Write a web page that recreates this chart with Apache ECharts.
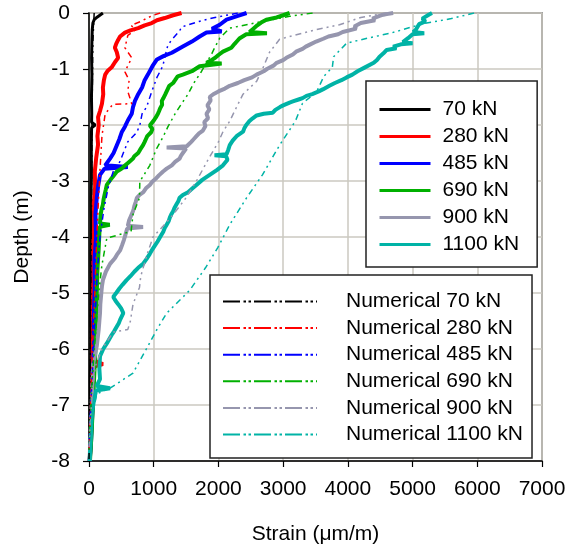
<!DOCTYPE html>
<html>
<head>
<meta charset="utf-8">
<script src="https://cdn.jsdelivr.net/npm/echarts@6/dist/echarts.min.js"></script>
<style>
html,body{margin:0;padding:0;background:#fff;}
#chart{width:578px;height:550px;}
</style>
</head>
<body>
<div id="chart"></div>
<script>
// ---- Data: [strain (µm/m), depth (m)] ----
var seriesNames = ['70 kN','280 kN','485 kN','690 kN','900 kN','1100 kN'];
var numNames = ['Numerical 70 kN','Numerical 280 kN','Numerical 485 kN','Numerical 690 kN','Numerical 900 kN','Numerical 1100 kN'];
var colors = ['#000000','#ff0000','#0000ff','#00b000','#9696ae','#00b3a6'];
var xTicks = [0,1000,2000,3000,4000,5000,6000,7000];
var yTicks = [-8,-7,-6,-5,-4,-3,-2,-1,0];

var meas70 = [[215,0],[190,-0.03],[130,-0.07],[80,-0.12],[60,-0.18],[50,-0.3],[45,-0.5],[40,-0.8],[45,-1.1],[38,-1.5],[42,-1.8],[40,-1.95],[95,-2.0],[40,-2.05],[35,-2.4],[38,-2.9],[30,-3.3],[35,-3.8],[28,-4.3],[32,-4.9],[25,-5.4],[30,-6.0],[20,-6.5],[22,-7.0],[15,-7.4],[10,-7.8],[5,-8]];
var meas280 = [[1430,0],[1300,-0.04],[1170,-0.09],[1050,-0.13],[970,-0.18],[860,-0.22],[760,-0.27],[640,-0.31],[555,-0.35],[480,-0.42],[450,-0.48],[420,-0.55],[400,-0.62],[430,-0.7],[450,-0.8],[400,-0.88],[350,-0.97],[290,-1.03],[250,-1.1],[230,-1.2],[215,-1.33],[220,-1.45],[200,-1.62],[170,-1.75],[140,-1.86],[150,-2.0],[130,-2.2],[140,-2.35],[110,-2.6],[90,-2.83],[95,-3.1],[75,-3.4],[80,-3.8],[65,-4.2],[70,-4.7],[60,-5.2],[65,-5.7],[55,-6.2],[215,-6.27],[60,-6.32],[50,-6.8],[40,-7.2],[30,-7.6],[10,-8]];
var meas485 = [[2435,0],[2300,-0.05],[2125,-0.12],[2020,-0.21],[1900,-0.28],[2050,-0.33],[1815,-0.35],[1710,-0.42],[1590,-0.51],[1450,-0.6],[1280,-0.71],[1150,-0.77],[1050,-0.83],[980,-0.95],[910,-1.1],[860,-1.2],[820,-1.33],[760,-1.45],[710,-1.57],[680,-1.68],[660,-1.8],[600,-1.92],[555,-2.03],[505,-2.13],[470,-2.25],[430,-2.36],[380,-2.5],[325,-2.6],[250,-2.72],[600,-2.75],[240,-2.78],[170,-2.89],[140,-3.1],[120,-3.3],[100,-3.6],[110,-4.0],[85,-4.4],[90,-4.9],[75,-5.4],[80,-5.9],[60,-6.4],[65,-6.9],[45,-7.3],[30,-7.7],[10,-8]];
var meas690 = [[3100,0],[3000,-0.04],[2900,-0.08],[2740,-0.12],[2660,-0.17],[2600,-0.22],[2540,-0.28],[2480,-0.34],[2750,-0.36],[2430,-0.38],[2330,-0.45],[2290,-0.5],[2250,-0.55],[2200,-0.62],[2070,-0.69],[2000,-0.75],[1950,-0.8],[1880,-0.85],[1815,-0.89],[2050,-0.9],[1710,-0.95],[1590,-1.04],[1450,-1.1],[1370,-1.13],[1330,-1.2],[1300,-1.25],[1240,-1.3],[1220,-1.33],[1200,-1.4],[1180,-1.45],[1150,-1.52],[1125,-1.57],[1130,-1.64],[1100,-1.7],[1080,-1.76],[1065,-1.8],[1030,-1.87],[1000,-1.92],[940,-2.01],[980,-2.07],[960,-2.13],[900,-2.2],[880,-2.25],[860,-2.3],[835,-2.36],[790,-2.44],[760,-2.5],[700,-2.56],[680,-2.6],[620,-2.66],[560,-2.72],[500,-2.78],[430,-2.83],[350,-2.95],[275,-3.07],[260,-3.15],[240,-3.25],[225,-3.33],[215,-3.42],[195,-3.5],[180,-3.6],[170,-3.76],[320,-3.78],[165,-3.82],[150,-4.2],[130,-4.6],[120,-5.0],[110,-5.5],[100,-6.0],[80,-6.5],[60,-7.0],[40,-7.5],[15,-8]];
var meas900 = [[4700,0],[4600,-0.02],[4550,-0.03],[4490,-0.05],[4380,-0.1],[4420,-0.13],[4200,-0.18],[4100,-0.24],[4130,-0.28],[3920,-0.34],[3850,-0.38],[3700,-0.42],[3620,-0.46],[3640,-0.48],[3510,-0.51],[3420,-0.56],[3350,-0.6],[3300,-0.64],[3200,-0.69],[3150,-0.74],[3050,-0.8],[3000,-0.84],[2900,-0.89],[2850,-0.94],[2750,-1.0],[2700,-1.04],[2590,-1.1],[2520,-1.15],[2400,-1.2],[2300,-1.25],[2175,-1.3],[2100,-1.35],[2000,-1.4],[1920,-1.45],[1865,-1.5],[1880,-1.56],[1830,-1.65],[1860,-1.72],[1815,-1.8],[1840,-1.88],[1780,-1.95],[1800,-2.02],[1760,-2.1],[1700,-2.15],[1660,-2.2],[1620,-2.25],[1580,-2.3],[1510,-2.38],[1200,-2.4],[1500,-2.42],[1450,-2.5],[1420,-2.55],[1400,-2.6],[1330,-2.66],[1280,-2.72],[1200,-2.78],[1145,-2.83],[1080,-2.9],[1040,-2.95],[980,-3.01],[940,-3.07],[880,-3.13],[840,-3.2],[780,-3.25],[740,-3.3],[720,-3.38],[700,-3.45],[690,-3.5],[680,-3.54],[650,-3.62],[620,-3.7],[600,-3.8],[835,-3.82],[590,-3.85],[580,-3.89],[560,-3.97],[540,-4.05],[510,-4.15],[480,-4.24],[430,-4.32],[400,-4.38],[325,-4.48],[260,-4.62],[215,-4.77],[200,-4.88],[190,-5.0],[175,-5.2],[170,-5.36],[160,-5.5],[150,-5.65],[135,-5.8],[120,-5.95],[65,-6.25],[50,-6.7],[35,-7.2],[20,-7.6],[10,-8]];
var meas1100 = [[5300,0],[5250,-0.03],[5150,-0.1],[5200,-0.15],[5100,-0.2],[5050,-0.3],[5010,-0.34],[5180,-0.36],[5000,-0.38],[4930,-0.45],[4850,-0.52],[5000,-0.54],[4820,-0.56],[4700,-0.6],[4750,-0.63],[4600,-0.66],[4550,-0.72],[4490,-0.78],[4450,-0.84],[4400,-0.89],[4250,-0.98],[4150,-1.04],[4070,-1.1],[3980,-1.15],[3900,-1.2],[3800,-1.25],[3715,-1.3],[3620,-1.36],[3550,-1.4],[3450,-1.45],[3360,-1.48],[3300,-1.52],[3250,-1.54],[3150,-1.58],[3100,-1.6],[3000,-1.65],[2950,-1.68],[2880,-1.73],[2840,-1.78],[2700,-1.8],[2590,-1.83],[2530,-1.88],[2480,-1.93],[2430,-2.0],[2400,-2.06],[2380,-2.12],[2330,-2.16],[2280,-2.2],[2220,-2.28],[2175,-2.36],[2150,-2.45],[2125,-2.52],[1940,-2.54],[2120,-2.56],[2140,-2.62],[2070,-2.72],[1980,-2.8],[1865,-2.89],[1750,-2.98],[1660,-3.07],[1600,-3.13],[1530,-3.2],[1450,-3.25],[1400,-3.3],[1380,-3.36],[1350,-3.42],[1320,-3.48],[1300,-3.54],[1270,-3.6],[1250,-3.65],[1230,-3.72],[1200,-3.78],[1170,-3.84],[1150,-3.9],[1120,-3.96],[1095,-4.01],[1060,-4.08],[1020,-4.15],[980,-4.22],[940,-4.3],[890,-4.39],[835,-4.48],[760,-4.55],[700,-4.62],[640,-4.7],[580,-4.77],[520,-4.85],[470,-4.92],[420,-5.0],[375,-5.07],[410,-5.14],[450,-5.2],[500,-5.28],[530,-5.36],[480,-5.48],[460,-5.54],[430,-5.6],[390,-5.68],[350,-5.75],[310,-5.83],[275,-5.9],[220,-6.0],[170,-6.13],[160,-6.35],[170,-6.54],[120,-6.66],[325,-6.7],[110,-6.74],[80,-6.9],[45,-7.13],[30,-7.5],[10,-8]];

var num70 = [[80,0],[60,-0.5],[50,-1.5],[40,-3.0],[30,-4.5],[20,-6.0],[10,-7.0],[0,-8]];
var num280 = [[1100,0],[970,-0.05],[800,-0.15],[650,-0.22],[720,-0.3],[600,-0.4],[555,-0.62],[660,-0.8],[555,-1.05],[620,-1.2],[600,-1.4],[660,-1.62],[370,-1.63],[250,-1.8],[200,-2.2],[170,-2.8],[140,-3.5],[110,-4.3],[90,-5.0],[60,-5.8],[40,-6.5],[20,-7.2],[0,-7.8]];
var num485 = [[2300,0],[1910,-0.09],[1700,-0.15],[1430,-0.25],[1400,-0.32],[1300,-0.45],[1220,-0.57],[1180,-0.75],[1140,-0.95],[1050,-1.15],[970,-1.4],[890,-1.68],[820,-1.8],[790,-1.98],[740,-2.13],[600,-2.3],[530,-2.5],[480,-2.65],[375,-2.83],[300,-3.1],[230,-3.5],[170,-4.0],[130,-4.6],[100,-5.3],[70,-6.0],[40,-6.7],[15,-7.3],[0,-7.8]];
var num690 = [[3455,0],[3100,-0.06],[2640,-0.16],[2175,-0.27],[2020,-0.45],[1950,-0.6],[1900,-0.72],[1740,-1.04],[1620,-1.25],[1530,-1.45],[1430,-1.62],[1330,-1.8],[1220,-2.03],[1150,-2.2],[1045,-2.42],[940,-2.72],[785,-3.01],[780,-3.3],[680,-3.6],[650,-3.9],[275,-4.02],[200,-4.5],[150,-5.0],[110,-5.6],[70,-6.2],[40,-6.8],[10,-7.5],[0,-7.8]];
var num900 = [[4600,0],[4200,-0.08],[3870,-0.21],[3500,-0.3],[3100,-0.42],[2945,-0.47],[2790,-0.7],[2700,-0.95],[2590,-1.22],[2380,-1.45],[2280,-1.68],[2175,-1.93],[2070,-2.12],[2000,-2.3],[1850,-2.6],[1660,-3.0],[1500,-3.3],[1300,-3.6],[1150,-3.8],[990,-4.0],[900,-4.3],[800,-4.7],[780,-4.9],[680,-5.2],[640,-5.5],[600,-5.65],[375,-5.7],[200,-6.0],[100,-6.3],[50,-6.8],[20,-7.3],[0,-7.8]];
var num1100 = [[5950,0],[5600,-0.1],[5165,-0.19],[4660,-0.36],[4300,-0.45],[3980,-0.54],[3780,-0.78],[3760,-0.97],[3630,-1.13],[3560,-1.3],[3510,-1.42],[3300,-1.61],[3200,-1.9],[3150,-2.0],[2945,-2.36],[2680,-2.89],[2435,-3.3],[2175,-3.78],[1990,-4.19],[1800,-4.55],[1557,-4.95],[1200,-5.36],[1050,-5.65],[910,-5.95],[680,-6.43],[325,-6.7],[120,-6.8],[50,-7.2],[0,-7.6]];

var measData = [meas70, meas280, meas485, meas690, meas900, meas1100];
var numData = [num70, num280, num485, num690, num900, num1100];

var FONT = '"Liberation Sans", Arial, sans-serif';
var chart = echarts.init(document.getElementById('chart'), null, {renderer:'canvas'});

var series = [];
measData.forEach(function(d, i){
  series.push({
    name: seriesNames[i], type:'line', data:d, symbol:'none', showSymbol:false,
    lineStyle:{color:colors[i], width: i===0 ? 3 : 4}, itemStyle:{color:colors[i]},
    animation:false, z:2
  });
});
numData.forEach(function(d, i){
  series.push({
    name: numNames[i], type:'line', data:d, symbol:'none', showSymbol:false,
    lineStyle:{color:colors[i], width:1.5, type:[6,4,2,4,2,4]}, itemStyle:{color:colors[i]},
    animation:false, z:3
  });
});

var hiddenSymbol = {color:'transparent', borderColor:'transparent', borderWidth:0, opacity:0};

chart.setOption({
  backgroundColor:'#ffffff',
  animation:false,
  grid:{left:89, top:13, width:453, height:453, show:true, borderColor:'#555', borderWidth:1.5, backgroundColor:'transparent'},
  xAxis:{
    type:'value', min:xTicks[0], max:xTicks[xTicks.length-1], interval:1000,
    name:'Strain (\u03bcm/m)', nameLocation:'middle', nameGap:63,
    nameTextStyle:{fontSize:21, color:'#000', fontFamily:FONT},
    axisLine:{onZero:false, lineStyle:{color:'#000', width:1.5}},
    axisTick:{show:true, length:6, lineStyle:{color:'#000', width:1.2}},
    axisLabel:{fontSize:21, color:'#000', fontFamily:FONT, margin:18, formatter:function(v){return String(v);}},
    splitLine:{show:true, lineStyle:{color:'#cbc8c0', width:1.5}}
  },
  yAxis:{
    type:'value', min:yTicks[0], max:yTicks[yTicks.length-1], interval:1,
    name:'Depth (m)', nameLocation:'middle', nameGap:56, nameRotate:90,
    nameTextStyle:{fontSize:21, color:'#000', fontFamily:FONT},
    axisLine:{onZero:false, lineStyle:{color:'#000', width:1.5}},
    axisTick:{show:true, length:6, lineStyle:{color:'#000', width:1.2}},
    axisLabel:{fontSize:21, color:'#000', fontFamily:FONT, margin:19, formatter:function(v){return String(v);}},
    splitLine:{show:true, lineStyle:{color:'#cbc8c0', width:1.5}}
  },
  legend:[
    {
      data:seriesNames, orient:'vertical', left:366, top:81,
      itemWidth:51, itemHeight:14, itemGap:6,
      padding:[18,18,12,12],
      backgroundColor:'#fff', borderColor:'#222', borderWidth:1.5,
      textStyle:{fontSize:21, color:'#000', fontFamily:FONT, lineHeight:21, padding:[0,0,0,7]},
      itemStyle:hiddenSymbol,
      lineStyle:{width:3}, selectedMode:false
    },
    {
      data:numNames, orient:'vertical', left:210, top:275,
      itemWidth:94, itemHeight:14, itemGap:5.6,
      padding:[16,9,13,12],
      backgroundColor:'#fff', borderColor:'#222', borderWidth:1.5,
      textStyle:{fontSize:21, color:'#000', fontFamily:FONT, lineHeight:21, padding:[0,0,0,24]},
      itemStyle:hiddenSymbol,
      lineStyle:{width:2, type:[17,3.5,2.5,2.5,2.5,3]}, selectedMode:false
    }
  ],
  series: series
});
</script>
</body>
</html>
